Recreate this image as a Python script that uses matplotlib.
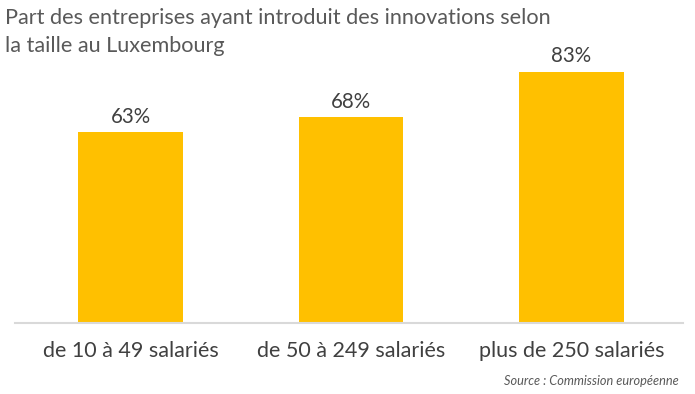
import matplotlib
matplotlib.use("Agg")
import matplotlib.pyplot as plt

categories = ["de 10 à 49 salariés", "de 50 à 249 salariés", "plus de 250 salariés"]
values = [63, 68, 83]
title = "Part des entreprises ayant introduit des innovations selon\nla taille au Luxembourg"
source = "Source : Commission européenne"

plt.rcParams["font.family"] = ["Lato", "DejaVu Sans"]

fig = plt.figure(figsize=(6.95, 3.94), dpi=100)
ax = fig.add_axes([15 / 695, 71 / 394, 668 / 695, 302.4 / 394])
x = list(range(len(categories)))
bars = ax.bar(x, values, width=0.476, color="#FFC000", zorder=2)
ax.set_xlim(-0.524, 2.506)
ax.set_ylim(0, 100)

for xi, v in zip(x, values):
    ax.annotate(f"{v}%", (xi, v), xytext=(0, 4), textcoords="offset points",
                ha="center", va="bottom", fontsize=14.8, color="#404040")

for s in ["top", "right", "left"]:
    ax.spines[s].set_visible(False)
ax.spines["bottom"].set_color("#D9D9D9")
ax.spines["bottom"].set_linewidth(1.5)
ax.set_yticks([])
ax.set_xticks(x)
ax.set_xticklabels(categories, fontsize=15.5, color="#404040")
ax.tick_params(axis="x", length=0, pad=13)

fig.text(5 / 695, 1 - 8 / 394, title, ha="left", va="top", fontsize=15.6,
         color="#595959", linespacing=1.5)
fig.text(679 / 695, 1 - 381 / 394, source, ha="right", va="center",
         fontsize=9.2, style="italic", color="#595959")

fig.savefig("out.png", dpi=100)
